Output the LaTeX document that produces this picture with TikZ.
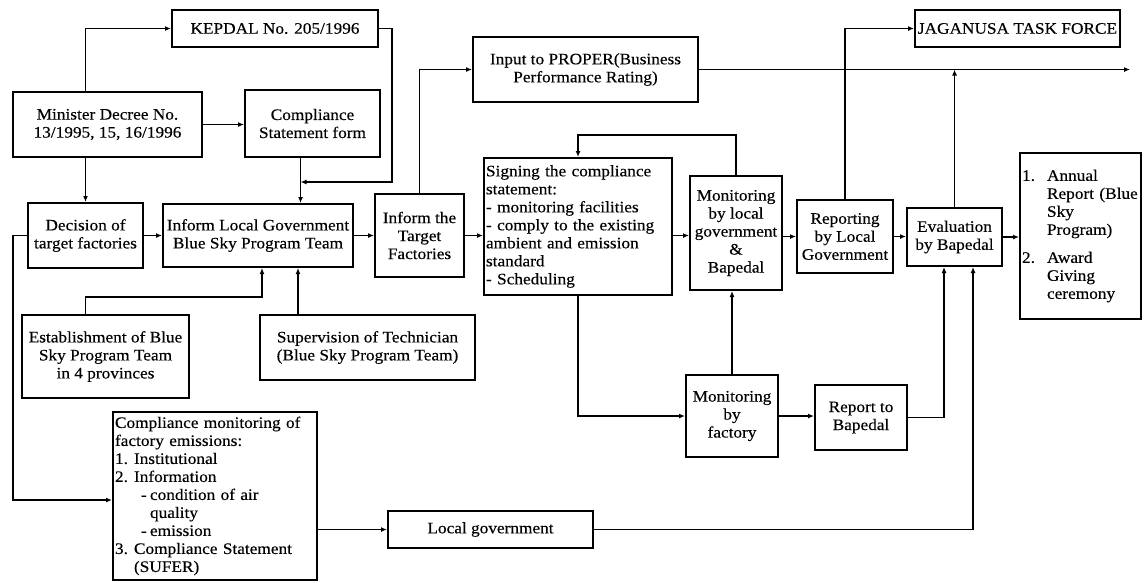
\documentclass[tikz,border=0pt]{standalone}
\usepackage{fontspec}
\setmainfont{Liberation Serif}[FakeStretch=1.08,FakeBold=0.3]
\usetikzlibrary{arrows.meta}

\begin{document}
\begin{tikzpicture}[x=1pt,y=-1pt,
  box/.style={draw,line width=2pt,inner sep=2pt,align=center,font=\fontsize{16}{18}\selectfont},
  conn/.style={line width=1.4pt,-{Latex[length=6pt,width=5pt]}}]
\useasboundingbox (0,0) rectangle (1147,582);
\node[box,minimum width=206pt,minimum height=37pt] (kepdal) at (275,28.5) {KEPDAL No. 205/1996};
\node[box,minimum width=189pt,minimum height=65pt] (minister) at (107.5,124.5) {Minister Decree No.\\13/1995, 15, 16/1996};
\node[box,minimum width=135pt,minimum height=67pt] (csform) at (312.5,123.5) {Compliance\\Statement form};
\node[box,minimum width=115pt,minimum height=65pt] (decision) at (85.5,235.5) {Decision of\\target factories};
\node[box,minimum width=190pt,minimum height=63pt] (informlg) at (258,235.5) {Inform Local Government\\Blue Sky Program Team};
\node[box,minimum width=167pt,minimum height=83pt] (establish) at (105.5,356.5) {Establishment of Blue\\Sky Program Team\\in 4 provinces};
\node[box,minimum width=215pt,minimum height=65pt] (supervise) at (367.5,347.5) {Supervision of Technician\\(Blue Sky Program Team)};
\node[box,align=left,text width=200pt,minimum height=168pt] (cmon) at (215,496) {Compliance monitoring of\\factory emissions:\\
  \makebox[19pt][l]{1.}Institutional\\
  \makebox[19pt][l]{2.}Information\\
  \hspace*{26pt}\makebox[9pt][l]{-}condition of air\\
  \hspace*{35pt}quality\\
  \hspace*{26pt}\makebox[9pt][l]{-}emission\\
  \makebox[19pt][l]{3.}Compliance Statement\\
  \hspace*{19pt}(SUFER)};
\node[box,minimum width=205pt,minimum height=37pt] (localgov) at (490.5,529.5) {Local government};
%
\node[box,minimum width=89pt,minimum height=83pt] (informtf) at (419.5,235.5) {Inform the\\Target\\Factories};
\node[box,minimum width=225pt,minimum height=65pt] (proper) at (585.5,69.5) {Input to PROPER(Business\\Performance Rating)};
\node[box,align=left,text width=184pt,minimum height=137pt] (signing) at (578,226.5) {Signing the compliance\\statement:\\- monitoring facilities\\- comply to the existing\\ambient and emission\\standard\\- Scheduling};
\node[box,minimum width=92pt,minimum height=114pt] (monlocal) at (736,233) {Monitoring\\by local\\government\\\&\\Bapedal};
\node[box,minimum width=92pt,minimum height=82pt] (monfac) at (732,416) {Monitoring\\by\\factory};
\node[box,minimum width=92pt,minimum height=65pt] (report) at (861,417.5) {Report to\\Bapedal};
\node[box,minimum width=96pt,minimum height=73pt] (reporting) at (845,236.5) {Reporting\\by Local\\Government};
\node[box,minimum width=95pt,minimum height=58pt] (evaluation) at (954.5,237) {Evaluation\\by Bapedal};
\node[box,minimum width=205pt,minimum height=37pt] (jaganusa) at (1017.5,28.5) {JAGANUSA TASK FORCE};
\node[box,align=left,text width=117pt,minimum height=166pt] (annual) at (1080.5,236) {\makebox[25pt][l]{1.}Annual\\
  \hspace*{25pt}Report (Blue\\
  \hspace*{25pt}Sky\\
  \hspace*{25pt}Program)\\[10pt]
  \makebox[25pt][l]{2.}Award\\
  \hspace*{25pt}Giving\\
  \hspace*{25pt}ceremony};
%
\coordinate (cdrop) at ([xshift=-12pt]csform.south);
\coordinate (kbend) at (392,182);
\coordinate (lcorner) at (13,500);
\coordinate (ebend) at (262,297);
\coordinate (sup) at ([xshift=40pt]informlg.south);
\coordinate (lgup) at ([xshift=18.5pt]evaluation.south);
\coordinate (rpup) at ([xshift=-10.5pt]evaluation.south);
\coordinate (pend) at (1130,69.5);
\coordinate (loop) at (736,135);
%
\draw[conn] (minister.north -| decision.north) |- (kepdal.west);
\draw[conn] (minister.east) -- (minister.east -| csform.west);
\draw[conn] (minister.south -| decision.north) -- (decision.north);
\draw[conn] (cdrop) -- (cdrop |- informlg.north);
\draw[conn] (kepdal.east) -| (kbend) -- (kbend -| cdrop);
\draw[conn] (decision.east) -- (decision.east -| informlg.west);
\draw[conn] (informlg.east) -- (informlg.east -| informtf.west);
\draw[conn] (decision.west) -| (lcorner) -- (lcorner -| cmon.west);
\draw[conn] (establish.north -| decision.north) |- (ebend) -- (ebend |- informlg.south);
\draw[conn] (sup |- supervise.north) -- (sup);
\draw[conn] (localgov.west -| cmon.east) -- (localgov.west);
\draw[conn] (localgov.east) -| (lgup);
%
\draw[conn] (informtf.north) |- (proper.west);
\draw[conn] (proper.east) -- (pend);
\draw[conn] (evaluation.north) -- (evaluation.north |- pend);
\draw[conn] (informtf.east) -- (informtf.east -| signing.west);
\draw[conn] (informtf.east -| signing.east) -- (informtf.east -| monlocal.west);
\draw[conn] (monlocal.north) -- (loop) -| (signing.north);
\draw[conn] (signing.south) |- (monfac.west);
\draw[conn] (monfac.north) -- (monfac.north |- monlocal.south);
\draw[conn] (monfac.east) -- (monfac.east -| report.west);
\draw[conn] (report.east) -| (rpup);
\draw[conn] (reporting.west -| monlocal.east) -- (reporting.west);
\draw[conn] (reporting.north) |- (jaganusa.west);
\draw[conn] (reporting.east) -- (reporting.east -| evaluation.west);
\draw[conn] (evaluation.east) -- (evaluation.east -| annual.west);

\end{tikzpicture}
\end{document}
